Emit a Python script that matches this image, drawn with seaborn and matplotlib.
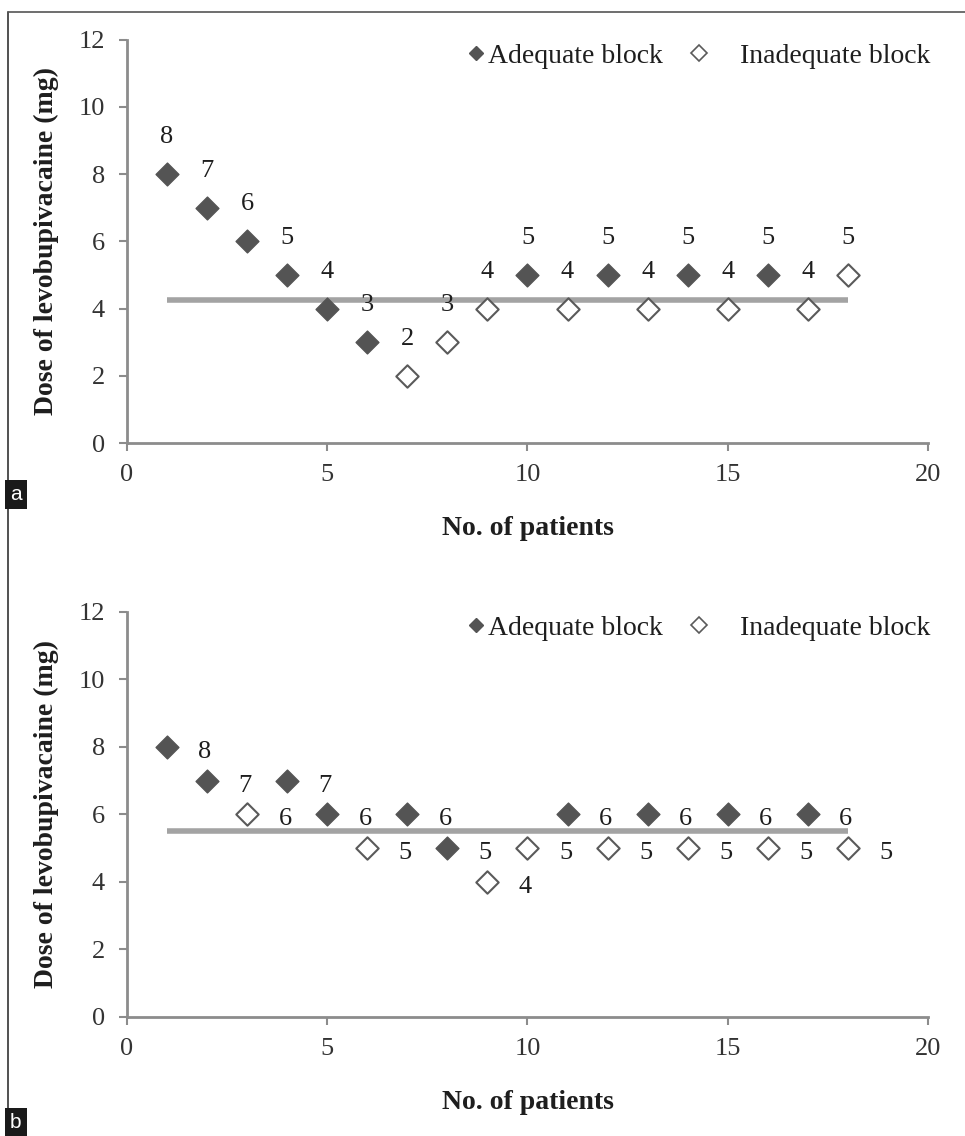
import numpy as np
import pandas as pd
import matplotlib
matplotlib.use("Agg")
import matplotlib.pyplot as plt
import seaborn as sns
from matplotlib.lines import Line2D

# ---------------- data ----------------
patients = list(range(1, 19))

dose_a = [8, 7, 6, 5, 4, 3, 2, 3, 4, 5, 4, 5, 4, 5, 4, 5, 4, 5]
block_a = ["Adequate", "Adequate", "Adequate", "Adequate", "Adequate", "Adequate",
           "Inadequate", "Inadequate", "Inadequate", "Adequate", "Inadequate", "Adequate",
           "Inadequate", "Adequate", "Inadequate", "Adequate", "Inadequate", "Inadequate"]
mean_a = 4.25

dose_b = [8, 7, 6, 7, 6, 5, 6, 5, 4, 5, 6, 5, 6, 5, 6, 5, 6, 5]
block_b = ["Adequate", "Adequate", "Inadequate", "Adequate", "Adequate", "Inadequate",
           "Adequate", "Adequate", "Inadequate", "Inadequate", "Adequate", "Inadequate",
           "Adequate", "Inadequate", "Adequate", "Inadequate", "Adequate", "Inadequate"]
mean_b = 5.5

x_ticks = [0, 5, 10, 15, 20]
y_ticks = [0, 2, 4, 6, 8, 10, 12]
legend_labels = ["Adequate block", "Inadequate block"]
x_label = "No. of patients"
y_label = "Dose of levobupivacaine (mg)"
panel_labels = ["a", "b"]

# ---------------- style ----------------
sns.set_theme(style="white")
plt.rcParams["font.family"] = ["Liberation Serif", "DejaVu Serif"]

FILL = "#545454"
EDGE = "#5a5a5a"
SPINE = "#8c8c8c"
LINEC = "#a3a3a3"
TXT = "#1e1e1e"

fig = plt.figure(figsize=(9.65, 11.36), dpi=100)
ax_a = fig.add_axes([0.1316, 0.610, 0.830, 0.3552])
ax_b = fig.add_axes([0.1316, 0.1048, 0.830, 0.3565])


def draw_panel(ax, dose, block, mean, label_offset, label_ha):
    df = pd.DataFrame({"patient": patients, "dose": dose, "block": block})
    adq = df[df["block"] == "Adequate"]
    inq = df[df["block"] == "Inadequate"]
    ax.hlines(mean, df["patient"].min(), df["patient"].max(), color=LINEC,
              linewidth=4, zorder=1)
    sns.scatterplot(data=adq, x="patient", y="dose", ax=ax, marker="D", s=135,
                    color=FILL, edgecolor=FILL, linewidth=1, zorder=3, legend=False)
    sns.scatterplot(data=inq, x="patient", y="dose", ax=ax, marker="D", s=130,
                    color="white", edgecolor=EDGE, linewidth=1.5, zorder=3, legend=False)
    for p, d in zip(df["patient"], df["dose"]):
        ax.annotate(str(d), (p, d), xytext=label_offset, textcoords="offset pixels",
                    ha=label_ha, va="center", fontsize=19, color=TXT)

    ax.set_xlim(0, 20)
    ax.set_ylim(0, 12)
    ax.set_xticks(x_ticks)
    ax.set_yticks(y_ticks)
    ax.tick_params(axis="both", direction="out", length=6, width=1.5, color=SPINE,
                   labelsize=19, labelcolor="#333333", left=True, bottom=True)
    ax.tick_params(axis="x", pad=9)
    ax.tick_params(axis="y", pad=10)
    for s in ["top", "right"]:
        ax.spines[s].set_visible(False)
    for s in ["left", "bottom"]:
        ax.spines[s].set_color(SPINE)
        ax.spines[s].set_linewidth(2)
    ax.set_xlabel(x_label, fontsize=20, fontweight="bold", color=TXT, labelpad=22)
    ax.set_ylabel(y_label, fontsize=20, fontweight="bold", color=TXT, labelpad=14)

    handles = [
        Line2D([], [], marker="D", linestyle="none", markersize=7,
               markerfacecolor=FILL, markeredgecolor=FILL),
        Line2D([], [], marker="D", linestyle="none", markersize=8,
               markerfacecolor="white", markeredgecolor=EDGE, markeredgewidth=1.2),
    ]
    leg = ax.legend(handles, [legend_labels[0], "    " + legend_labels[1]],
                    loc="upper right", bbox_to_anchor=(1.02, 1.025), ncol=2,
                    frameon=False, handletextpad=0.05, columnspacing=0.9,
                    handlelength=0.8, borderaxespad=0.1, fontsize=20)
    for t in leg.get_texts():
        t.set_color(TXT)


draw_panel(ax_a, dose_a, block_a, mean_a, (0, 37), "center")
draw_panel(ax_b, dose_b, block_b, mean_b, (38, -5), "center")

# outer frame lines
fig.add_artist(Line2D([8 / 965, 8 / 965], [0, 1 - 12 / 1136], transform=fig.transFigure,
                      color="#333333", linewidth=1.2))
fig.add_artist(Line2D([8 / 965, 1], [1 - 12 / 1136, 1 - 12 / 1136], transform=fig.transFigure,
                      color="#555555", linewidth=1.2))

# panel tags
for lbl, ybot in zip(panel_labels, [1 - 508 / 1136, 0.0]):
    fig.text(10 / 965, ybot + 4 / 1136, lbl, ha="left", va="bottom", color="white",
             fontsize=15, family="Liberation Sans",
             bbox=dict(boxstyle="square,pad=0.25", facecolor="#1a1a1a", edgecolor="none"))

fig.savefig("out.png", dpi=100, facecolor="white")
